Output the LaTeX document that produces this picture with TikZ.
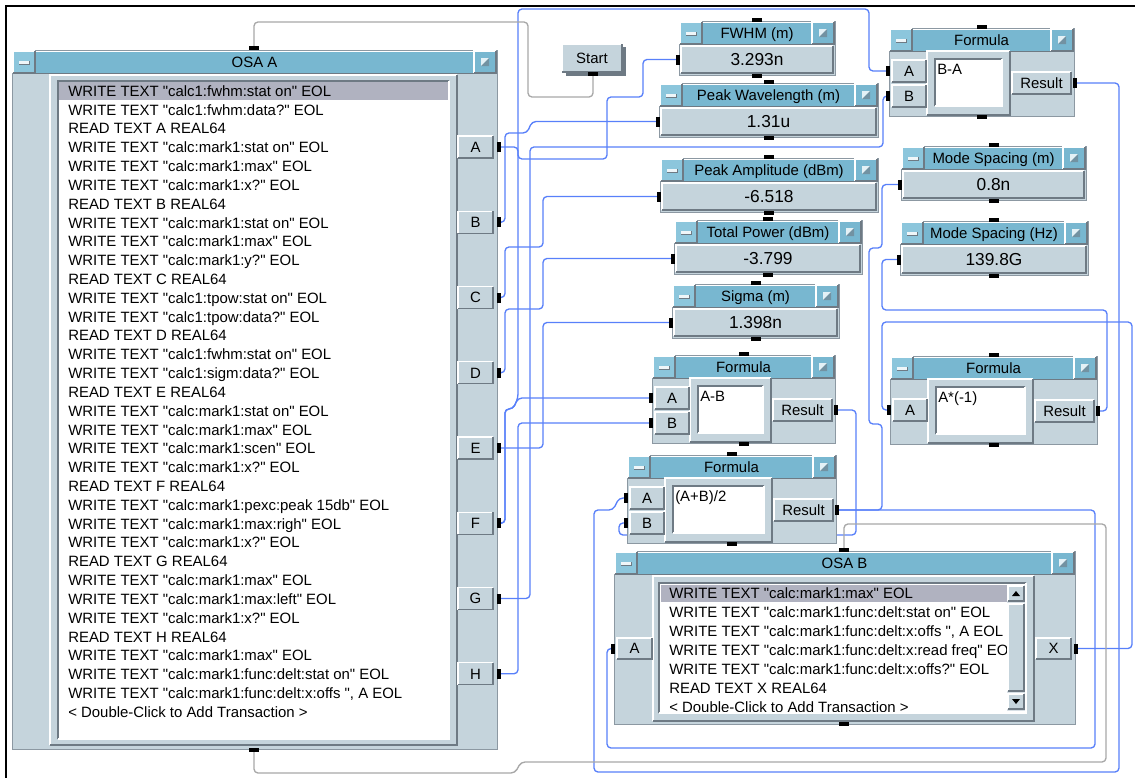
\documentclass[tikz,border=0pt]{standalone}
\usepackage{fontspec}
\setmainfont[Ligatures=TeXOff]{Liberation Sans}
\pgfdeclarelayer{bg}
\pgfdeclarelayer{wires}
\pgfsetlayers{bg,wires,main}

\definecolor{titlec}{RGB}{120,183,208}
\definecolor{bodyc}{RGB}{197,212,220}
\definecolor{btnc}{RGB}{140,198,220}
\definecolor{darkedge}{RGB}{110,122,132}
\definecolor{midedge}{RGB}{140,152,162}
\definecolor{wireb}{RGB}{88,128,250}
\definecolor{wireg}{RGB}{168,168,168}
\definecolor{hilite}{RGB}{176,178,192}
\definecolor{trackc}{RGB}{216,224,230}

\tikzset{
  ftxt/.style={font=\fontsize{11.2}{13}\selectfont, inner sep=0pt},
  fval/.style={font=\fontsize{13}{15}\selectfont, inner sep=0pt},
  hpin/.style={fill=black, inner sep=0pt, minimum width=3pt, minimum height=7.5pt},
  vpin/.style={fill=black, inner sep=0pt, minimum width=7.5pt, minimum height=3pt},
  bwire/.style={draw=wireb, line width=1pt, rounded corners=3pt},
  gwire/.style={draw=wireg, line width=1pt, rounded corners=3pt}
}

% raised panel: x1 y1 x2 y2 fill
\newcommand\vraised[5]{%
  \fill[#5] ({#1},{#2}) rectangle ({#3},{#4});
  \draw[white,line width=0.8pt] ({#1},{#4}) -- ({#1},{#2}) -- ({#3},{#2});
  \draw[darkedge,line width=0.8pt] ({#1},{#4}) -- ({#3},{#4}) -- ({#3},{#2});
}
% sunken panel: x1 y1 x2 y2 fill
\newcommand\vsunken[5]{%
  \fill[#5] ({#1},{#2}) rectangle ({#3},{#4});
  \draw[darkedge,line width=0.8pt] ({#1},{#4}) -- ({#1},{#2}) -- ({#3},{#2});
  \draw[white,line width=0.8pt] ({#1},{#4}) -- ({#3},{#4}) -- ({#3},{#2});
}
% title bar with buttons: name x1 y1 x2 text
\newcommand\vtitle[5]{%
  \fill[titlec] ({#2},{#3}) rectangle ({#4},{#3+22});
  \draw[white,line width=0.6pt] ({#2+22},{#3+22}) -- ({#2+22},{#3+0.5}) -- ({#4-22},{#3+0.5});
  \draw[darkedge,line width=0.6pt] ({#2+22},{#3+22}) -- ({#4-22},{#3+22});
  \vraised{#2}{#3}{#2+22}{#3+22}{btnc}
  \fill[white!88!titlec] ({#2+6},{#3+9.5}) rectangle ({#2+16},{#3+12.5});
  \draw[darkedge,line width=0.6pt] ({#2+6},{#3+13}) -- ({#2+16.5},{#3+13}) -- ({#2+16.5},{#3+9.5});
  \vraised{#4-22}{#3}{#4}{#3+22}{titlec}
  \fill[white!80!titlec] ({#4-15},{#3+7}) rectangle ({#4-7},{#3+15});
  \fill[darkedge!60!titlec] ({#4-15},{#3+15}) -- ({#4-7},{#3+15}) -- ({#4-7},{#3+7}) -- cycle;
  \node[ftxt,anchor=base] (#1) at ({(#2+#4)/2},{#3+16.8}) {#5};
}
% display object: name x1 y1 x2 title value
\newcommand\vdisplay[6]{%
  \draw[midedge,fill=bodyc] ({#2},{#3}) rectangle ({#4},{#3+54});
  \vtitle{#1-t}{#2+1}{#3+1}{#4-1}{#5}
  \vraised{#2+2}{#3+25}{#4-2}{#3+52}{bodyc}
  \node[fval,anchor=base] (#1-v) at ({(#2+#4)/2},{#3+44.7}) {#6};
  \node[vpin] (#1-top) at ({(#2+#4)/2},{#3-1}) {};
  \node[vpin] (#1-bot) at ({(#2+#4)/2},{#3+55}) {};
  \node[hpin] (#1-in) at ({#2-1},{#3+38.5}) {};
}
% formula object: name x1 y1 x2 expression
\newcommand\vformula[5]{%
  \draw[midedge,fill=bodyc] ({#2},{#3}) rectangle ({#4},{#3+88});
  \vtitle{#1-t}{#2+1}{#3+1}{#4-1}{Formula}
  \vraised{#2+38}{#3+23}{#4-64}{#3+87}{bodyc}
  \vsunken{#2+46}{#3+31}{#4-72}{#3+78}{white}
  \node[ftxt,anchor=base west] (#1-f) at ({#2+48},{#3+46}) {#5};
  \vraised{#4-62}{#3+44}{#4-3}{#3+66}{bodyc}
  \node[ftxt,anchor=base] (#1-rl) at ({#4-32.5},{#3+60.3}) {Result};
  \node[hpin] (#1-R) at ({#4+1},{#3+55}) {};
  \node[vpin] (#1-top) at ({(#2+#4)/2},{#3-1}) {};
  \node[vpin] (#1-bot) at ({(#2+#4)/2},{#3+89}) {};
}
% data input terminal: name label x1 ycenter
\newcommand\vinput[4]{%
  \vraised{#3+3}{#4-11}{#3+37}{#4+11}{bodyc}
  \node[ftxt,anchor=base] (#1-l) at ({#3+20},{#4+5.3}) {#2};
  \node[hpin] (#1) at ({#3-1},{#4}) {};
}

\begin{document}
\begin{tikzpicture}[x=0.75pt,y=-0.75pt]
\useasboundingbox (0,0) rectangle (1135,778);
\begin{pgfonlayer}{bg}
  \fill[white] (0,0) rectangle (1135,778);
  \draw[black,line width=1.9pt] (6,778) -- (6,6) -- (1135,6);
\end{pgfonlayer}

% ---------- OSA A ----------
\draw[midedge,fill=bodyc] (12,50) rectangle (497,749);
\vtitle{osaA-t}{13}{51}{496}{OSA A}
\vraised{50}{75}{457}{745}{bodyc}
\vsunken{58}{81}{449}{739}{white}
\fill[hilite] (59,82) rectangle (448,100);
\foreach \t [count=\i from 0] in {%
  {WRITE TEXT "calc1:fwhm:stat on" EOL},
  {WRITE TEXT "calc1:fwhm:data?" EOL},
  {READ TEXT A REAL64},
  {WRITE TEXT "calc:mark1:stat on" EOL},
  {WRITE TEXT "calc:mark1:max" EOL},
  {WRITE TEXT "calc:mark1:x?" EOL},
  {READ TEXT B REAL64},
  {WRITE TEXT "calc:mark1:stat on" EOL},
  {WRITE TEXT "calc:mark1:max" EOL},
  {WRITE TEXT "calc:mark1:y?" EOL},
  {READ TEXT C REAL64},
  {WRITE TEXT "calc1:tpow:stat on" EOL},
  {WRITE TEXT "calc1:tpow:data?" EOL},
  {READ TEXT D REAL64},
  {WRITE TEXT "calc1:fwhm:stat on" EOL},
  {WRITE TEXT "calc1:sigm:data?" EOL},
  {READ TEXT E REAL64},
  {WRITE TEXT "calc:mark1:stat on" EOL},
  {WRITE TEXT "calc:mark1:max" EOL},
  {WRITE TEXT "calc:mark1:scen" EOL},
  {WRITE TEXT "calc:mark1:x?" EOL},
  {READ TEXT F REAL64},
  {WRITE TEXT "calc:mark1:pexc:peak 15db" EOL},
  {WRITE TEXT "calc:mark1:max:righ" EOL},
  {WRITE TEXT "calc:mark1:x?" EOL},
  {READ TEXT G REAL64},
  {WRITE TEXT "calc:mark1:max" EOL},
  {WRITE TEXT "calc:mark1:max:left" EOL},
  {WRITE TEXT "calc:mark1:x?" EOL},
  {READ TEXT H REAL64},
  {WRITE TEXT "calc:mark1:max" EOL},
  {WRITE TEXT "calc:mark1:func:delt:stat on" EOL},
  {WRITE TEXT "calc:mark1:func:delt:x:offs ", A EOL},
  {< Double-Click to Add Transaction >}} {
  \node[ftxt,anchor=base west] (osaA-l\i) at (68,{96.3+18.82*\i}) {\t};
}
\foreach \p [count=\k from 0] in {A,B,C,D,E,F,G,H} {
  \pgfmathsetmacro\yy{147+75.25*\k}
  \vraised{458}{\yy-11}{493}{\yy+11}{bodyc}
  \node[ftxt,anchor=base] (osaA-\p-l) at (475.5,{\yy+5.3}) {\p};
  \node[hpin] (osaA-\p) at (498.5,\yy) {};
}
\node[vpin] (osaA-top) at (254,48) {};
\node[vpin] (osaA-bot) at (254,750) {};

% ---------- Start button ----------
\fill[darkedge] (566,47) rectangle (626,76);
\vraised{562}{44}{622}{72}{bodyc}
\node[ftxt,anchor=base] (start) at (592,63.5) {Start};
\node[vpin] (start-out) at (593,74) {};

% ---------- displays ----------
\vdisplay{fwhm}{679}{21}{835}{FWHM (m)}{3.293n}
\vdisplay{pw}{659}{83}{878}{Peak Wavelength (m)}{1.31u}
\vdisplay{pa}{660}{158}{878}{Peak Amplitude (dBm)}{-6.518}
\vdisplay{tp}{674}{220}{862}{Total Power (dBm)}{-3.799}
\vdisplay{sig}{672}{284}{839}{Sigma (m)}{1.398n}
\vdisplay{msm}{901}{146}{1086}{Mode Spacing (m)}{0.8n}
\vdisplay{msh}{900}{221}{1088}{Mode Spacing (Hz)}{139.8G}

% ---------- formulas ----------
\vformula{ba}{889}{28}{1074}{B-A}
\vinput{ba-A}{A}{889}{71}
\vinput{ba-B}{B}{889}{96}
\vformula{ab}{652}{355}{835}{A-B}
\vinput{ab-A}{A}{652}{398}
\vinput{ab-B}{B}{652}{423}
\vformula{avg}{627}{455}{836}{(A+B)/2}
\vinput{avg-A}{A}{627}{498}
\vinput{avg-B}{B}{627}{523}
\vformula{neg}{890}{356}{1097}{A*(-1)}
\vinput{neg-A}{A}{890}{410}

% ---------- OSA B ----------
\draw[midedge,fill=bodyc] (614,551) rectangle (1075,724);
\vtitle{osaB-t}{615}{552}{1074}{OSA B}
\vraised{653}{576}{1034}{721}{bodyc}
\vsunken{659}{583}{1026}{713}{white}
\fill[hilite] (661,585) rectangle (1007,602);
\begin{scope}
  \clip (661,585) rectangle (1007,711);
  \foreach \t [count=\i from 0] in {%
    {WRITE TEXT "calc:mark1:max" EOL},
    {WRITE TEXT "calc:mark1:func:delt:stat on" EOL},
    {WRITE TEXT "calc:mark1:func:delt:x:offs ", A EOL},
    {WRITE TEXT "calc:mark1:func:delt:x:read freq" EOL},
    {WRITE TEXT "calc:mark1:func:delt:x:offs?" EOL},
    {READ TEXT X REAL64},
    {< Double-Click to Add Transaction >}} {
    \node[ftxt,anchor=base west] (osaB-l\i) at (669,{598.3+19*\i}) {\t};
  }
\end{scope}
% scroll bar
\fill[trackc] (1007,585) rectangle (1025,711);
\vraised{1008}{586}{1024}{601}{bodyc}
\fill[black] (1012,596) -- (1020,596) -- (1016,591) -- cycle;
\vraised{1008}{604}{1024}{691}{bodyc}
\vraised{1008}{694}{1024}{709}{bodyc}
\fill[black] (1012,699) -- (1020,699) -- (1016,704) -- cycle;
% terminals
\vraised{617}{638}{652}{659}{bodyc}
\node[ftxt,anchor=base] (osaB-A-l) at (634.5,653.8) {A};
\node[hpin] (osaB-A) at (613,648.5) {};
\vraised{1036}{638}{1071}{659}{bodyc}
\node[ftxt,anchor=base] (osaB-X-l) at (1053.5,653.8) {X};
\node[hpin] (osaB-X) at (1076,648.5) {};
\node[vpin] (osaB-top) at (844,550) {};
\node[vpin] (osaB-bot) at (844,724) {};

% ---------- wires ----------
\begin{pgfonlayer}{wires}
  \draw[bwire] (osaA-A.center) -- (518,147) -- (518,159) -- (607,159) -- (607,97) -- (643,97) -- (643,59.5) -- (fwhm-in.center);
  \draw[bwire] (osaA-B.center) -- (505,222.25) -- (505,133) -- (527,133) -- (532,121.5) -- (pw-in.center);
  \draw[bwire] (osaA-C.center) -- (505,297.5) -- (505,247) -- (543,247) -- (543,196.5) -- (pa-in.center);
  \draw[bwire] (osaA-D.center) -- (505,372.75) -- (505,309) -- (543,309) -- (543,258.5) -- (tp-in.center);
  \draw[bwire] (osaA-E.center) -- (543,448) -- (543,322.5) -- (sig-in.center);
  \draw[bwire] (osaA-F.center) -- (505,523.25) -- (505,409) -- (513,409) -- (518,398) -- (ab-A.center);
  \draw[bwire] (osaA-F.center) -- (505,523.25) -- (505,409) -- (513,409) -- (518,398) -- (518,9) -- (869,9) -- (869,71) -- (ba-A.center);
  \draw[bwire] (osaA-G.center) -- (530,598.5) -- (530,147) -- (883,147) -- (883,96) -- (ba-B.center);
  \draw[bwire] (osaA-H.center) -- (518,673.75) -- (518,423) -- (ab-B.center);
  \draw[bwire] (ba-R.center) -- (1119,83) -- (1119,772) -- (594,772) -- (594,510) -- (613,510) -- (619,498) -- (avg-A.center);
  \draw[bwire] (ab-R.center) -- (856,410) -- (856,535) -- (619,535) -- (619,523) -- (avg-B.center);
  \draw[bwire] (avg-R.center) -- (882,510) -- (882,424) -- (869,424) -- (869,248) -- (882,248) -- (882,184.5) -- (msm-in.center);
  \draw[bwire] (avg-R.center) -- (1095,510) -- (1095,748) -- (607,748) -- (607,648.5) -- (osaB-A.center);
  \draw[bwire] (osaB-X.center) -- (1132,648.5) -- (1132,322) -- (882,322) -- (882,410) -- (neg-A.center);
  \draw[bwire] (neg-R.center) -- (1107,411) -- (1107,310) -- (882,310) -- (882,259.5) -- (msh-in.center);
  \draw[gwire] (start-out.center) -- (593,97) -- (528,97) -- (528,22) -- (254,22) -- (osaA-top.center);
  \draw[gwire] (osaA-bot.center) -- (254,773) -- (515,773) -- (521,762) -- (1106,762) -- (1106,524) -- (844,524) -- (osaB-top.center);
\end{pgfonlayer}
\end{tikzpicture}
\end{document}
